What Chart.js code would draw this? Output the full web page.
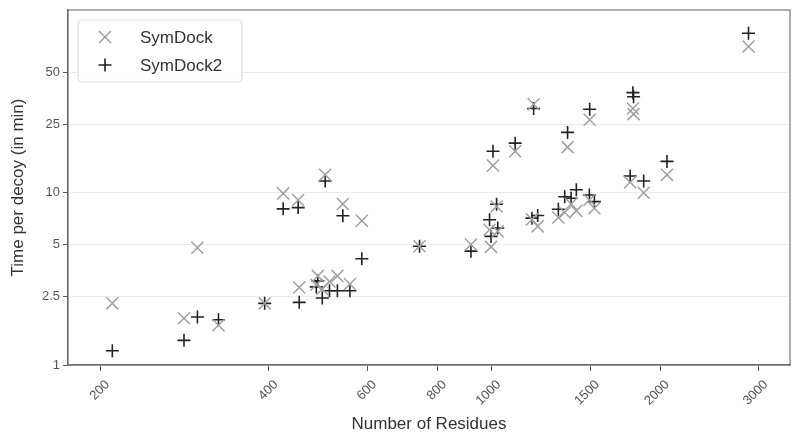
<!DOCTYPE html>
<html>
<head>
<meta charset="utf-8">
<script src="https://cdn.jsdelivr.net/npm/chart.js@4"></script>
<style>
  html, body { margin: 0; padding: 0; background: #fff; }
  #wrap { width: 800px; height: 439px; }
</style>
</head>
<body>
<div id="wrap"><canvas id="myChart"></canvas></div>
<script>
// residues per complex (shared by both methods)
var residues = [210, 282, 298, 325, 393, 424, 451, 453, 486, 489, 498, 504, 513, 530, 542, 558, 586, 743,
  918, 991, 997, 1005, 1020, 1025, 1101, 1180, 1188, 1208, 1315, 1350, 1366, 1386, 1416, 1494, 1496, 1525,
  1767, 1787, 1792, 1868, 2056, 2875];
var symDock = [2.28, 1.87, 4.79, 1.70, 2.28, 9.91, 9.08, 2.82, 2.92, 3.29, 2.76, 12.7, 3.05, 3.29, 8.6, 2.95, 6.88, 4.89,
  5.0, 6.1, 4.85, 14.4, 8.31, 5.97, 17.4, 7.0, 32.6, 6.38, 7.18, 7.67, 18.4, 8.6, 7.85, 9.08, 26.5, 8.12,
  11.5, 30.8, 28.6, 10.0, 12.7, 70.6];
var symDock2 = [1.21, 1.39, 1.90, 1.83, 2.28, 8.06, 8.2, 2.31, 2.84, 3.08, 2.45, 11.7, 2.70, 2.70, 7.35, 2.70, 4.14, 4.89,
  4.58, 6.97, 5.58, 17.4, 8.57, 6.24, 19.4, 7.12, 30.8, 7.38, 8.02, 9.48, 22.4, 9.28, 10.4, 9.7, 30.5, 8.88,
  12.5, 38.1, 36.1, 11.7, 15.2, 84.2];
var xTicks = [200, 400, 600, 800, 1000, 1500, 2000, 3000];
var yTicks = [1, 2.5, 5, 10, 25, 50];

var fontFamily = "'Liberation Sans', Arial, sans-serif";

function toPoints(ys) {
  return residues.map(function (r, i) { return { x: r, y: ys[i] }; });
}

// frame + legend box drawn inside the plot
var frameLegend = {
  id: "frameLegend",
  afterDraw: function (chart) {
    var ctx = chart.ctx;
    var a = chart.chartArea;
    ctx.save();
    ctx.strokeStyle = "#777";
    ctx.lineWidth = 1.2;
    ctx.strokeRect(a.left, a.top, a.right - a.left, a.bottom - a.top);

    // legend
    var bx = a.left + 10, by = a.top + 10, bw = 164, bh = 62;
    ctx.fillStyle = "rgba(255,255,255,0.85)";
    ctx.strokeStyle = "#ddd";
    ctx.lineWidth = 1;
    ctx.beginPath();
    ctx.roundRect(bx, by, bw, bh, 4);
    ctx.fill();
    ctx.stroke();

    chart.data.datasets.forEach(function (ds, i) {
      var y = by + 17 + i * 28;
      var cx = bx + 27;
      ctx.strokeStyle = ds.borderColor;
      ctx.lineWidth = ds.borderWidth;
      ctx.beginPath();
      if (ds.pointStyle === "crossRot") {
        var d = ds.pointRadius * Math.SQRT1_2;
        ctx.moveTo(cx - d, y - d); ctx.lineTo(cx + d, y + d);
        ctx.moveTo(cx - d, y + d); ctx.lineTo(cx + d, y - d);
      } else {
        var r = ds.pointRadius;
        ctx.moveTo(cx - r, y); ctx.lineTo(cx + r, y);
        ctx.moveTo(cx, y - r); ctx.lineTo(cx, y + r);
      }
      ctx.stroke();
      ctx.fillStyle = "#333";
      ctx.font = "17px " + fontFamily;
      ctx.textBaseline = "middle";
      ctx.fillText(ds.label, bx + 62, y + 1);
    });
    ctx.restore();
  }
};

new Chart("myChart", {
  type: "scatter",
  data: {
    datasets: [
      {
        label: "SymDock",
        data: toPoints(symDock),
        pointStyle: "crossRot",
        pointRadius: 8.5,
        borderWidth: 1.5,
        borderColor: "#a0a0a0",
        backgroundColor: "#a0a0a0"
      },
      {
        label: "SymDock2",
        data: toPoints(symDock2),
        pointStyle: "cross",
        pointRadius: 6.5,
        borderWidth: 1.6,
        borderColor: "#222",
        backgroundColor: "#222"
      }
    ]
  },
  options: {
    responsive: true,
    maintainAspectRatio: false,
    animation: false,
    layout: { padding: { top: 6, right: 10, left: 0, bottom: 0 } },
    plugins: {
      legend: { display: false },
      tooltip: { enabled: false }
    },
    scales: {
      x: {
        type: "logarithmic",
        min: 175,
        max: 3410,
        afterBuildTicks: function (scale) {
          scale.ticks = xTicks.map(function (v) { return { value: v }; });
        },
        afterFit: function (scale) {
          scale.height = 74;
          scale.paddingTop = 0;
          scale.paddingBottom = 0;
        },
        ticks: {
          autoSkip: false,
          maxRotation: 45,
          minRotation: 45,
          padding: 6,
          labelOffset: 7,
          color: "#555",
          font: { size: 13, family: fontFamily },
          callback: function (v) { return String(v); }
        },
        grid: {
          drawOnChartArea: false,
          drawTicks: true,
          tickLength: 6,
          tickColor: "#555"
        },
        border: { color: "#555", width: 1.2 },
        title: {
          display: true,
          text: "Number of Residues",
          color: "#333",
          font: { size: 17, family: fontFamily },
          padding: { top: 0, bottom: 4 }
        }
      },
      y: {
        type: "logarithmic",
        min: 1,
        max: 115,
        afterBuildTicks: function (scale) {
          scale.ticks = yTicks.map(function (v) { return { value: v }; });
        },
        afterFit: function (scale) {
          scale.width = 68;
          scale.paddingTop = 0;
          scale.paddingBottom = 0;
        },
        ticks: {
          autoSkip: false,
          padding: 3,
          color: "#555",
          font: { size: 13, family: fontFamily },
          callback: function (v) { return String(v); }
        },
        grid: {
          color: "#ececec",
          lineWidth: 1,
          drawTicks: true,
          tickLength: 5,
          tickColor: "#555"
        },
        border: { color: "#555", width: 1.2 },
        title: {
          display: true,
          text: "Time per decoy (in min)",
          color: "#333",
          font: { size: 17, family: fontFamily },
          padding: { top: 8, bottom: 0 }
        }
      }
    }
  },
  plugins: [frameLegend]
});
</script>
</body>
</html>
